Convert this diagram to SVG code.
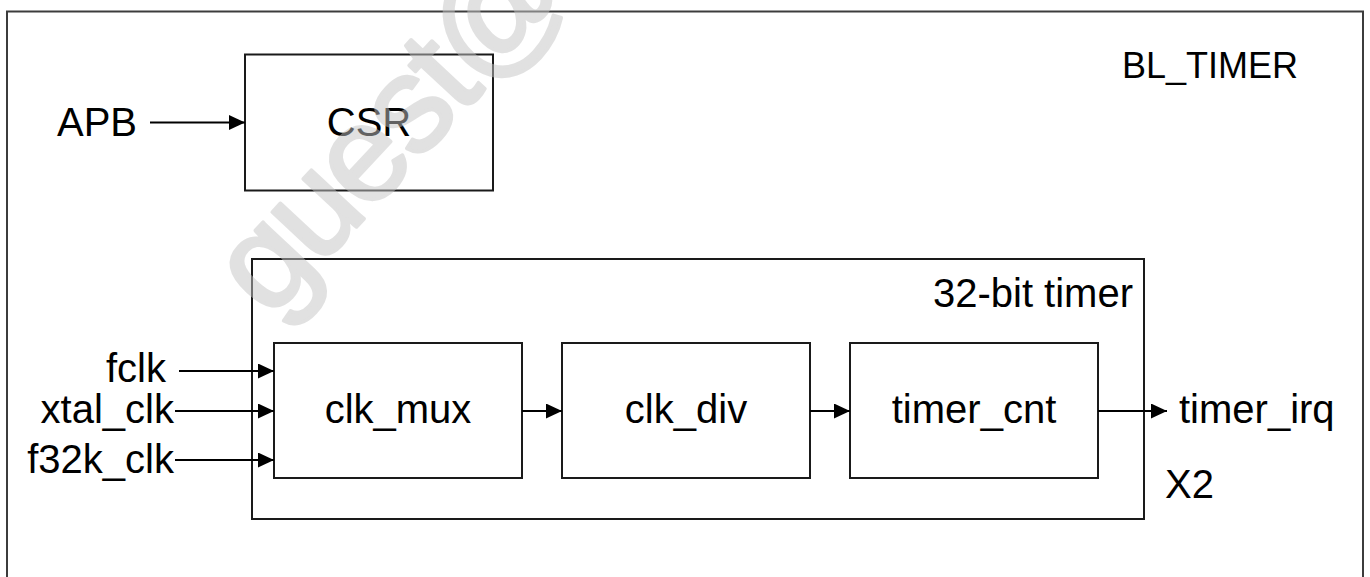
<svg xmlns="http://www.w3.org/2000/svg" width="1370" height="577" viewBox="0 0 1370 577">
  <style>
    .frame { fill: none; stroke: #3c3c3c; stroke-width: 2; }
    .box { fill: #ffffff; stroke: #1a1a1a; stroke-width: 2; }
    .group { fill: none; stroke: #1a1a1a; stroke-width: 2; }
    .wire { fill: none; stroke: #000000; stroke-width: 2; marker-end: url(#arrow); }
    text { font-family: "Liberation Sans", Arial, sans-serif; fill: #000000; }
    .lbl { font-size: 40px; }
    .mid { text-anchor: middle; }
    .end { text-anchor: end; }
    .title { font-size: 36px; }
    .wm { font-size: 136px; letter-spacing: -4px; fill: #c4c4c4; stroke: #c4c4c4; stroke-width: 3.5; stroke-linejoin: round; }
  </style>
  <defs>
    <marker id="arrow" markerUnits="userSpaceOnUse" markerWidth="17" markerHeight="16" refX="16" refY="7.5" orient="auto">
      <path d="M0,0 L16,7.5 L0,15 Z" fill="#000000"/>
    </marker>
  </defs>
  <rect width="1370" height="577" fill="#ffffff"/>

  <g id="bl_timer">
    <rect class="frame" x="7" y="11.5" width="1356" height="600"/>
    <text class="title" x="1122" y="78">BL_TIMER</text>
  </g>

  <g id="csr">
    <rect class="box" x="245" y="54.5" width="248" height="136"/>
    <text class="lbl mid" x="369" y="136">CSR</text>
  </g>

  <g id="apb">
    <text class="lbl" x="57" y="136">APB</text>
  </g>

  <g id="timer32">
    <rect class="group" x="252" y="259" width="892" height="260"/>
    <text class="lbl end" x="1133" y="307">32-bit timer</text>
    <text class="lbl" x="1165" y="498">X2</text>
  </g>

  <g id="clk_mux">
    <rect class="box" x="274" y="343" width="248" height="135"/>
    <text class="lbl mid" x="398" y="423">clk_mux</text>
  </g>

  <g id="clk_div">
    <rect class="box" x="562" y="343" width="248" height="135"/>
    <text class="lbl mid" x="686" y="423">clk_div</text>
  </g>

  <g id="timer_cnt">
    <rect class="box" x="850" y="343" width="248" height="135"/>
    <text class="lbl mid" x="974" y="423">timer_cnt</text>
  </g>

  <g id="inputs">
    <text class="lbl end" x="166" y="382">fclk</text>
    <text class="lbl end" x="174" y="423">xtal_clk</text>
    <text class="lbl end" x="174" y="473">f32k_clk</text>
  </g>

  <g id="timer_irq">
    <text class="lbl" x="1179" y="423">timer_irq</text>
  </g>

  <g id="connectors">
    <line class="wire" x1="150" y1="122.5" x2="245" y2="122.5"/>
    <line class="wire" x1="179" y1="371" x2="274" y2="371"/>
    <line class="wire" x1="175" y1="411" x2="274" y2="411"/>
    <line class="wire" x1="175" y1="460" x2="274" y2="460"/>
    <line class="wire" x1="522" y1="411" x2="562" y2="411"/>
    <line class="wire" x1="810" y1="411" x2="850" y2="411"/>
    <line class="wire" x1="1098" y1="411" x2="1167" y2="411"/>
  </g>

  <g id="watermark" opacity="0.5">
    <text class="wm" transform="translate(270,320) rotate(-47)">guest@</text>
  </g>
</svg>
